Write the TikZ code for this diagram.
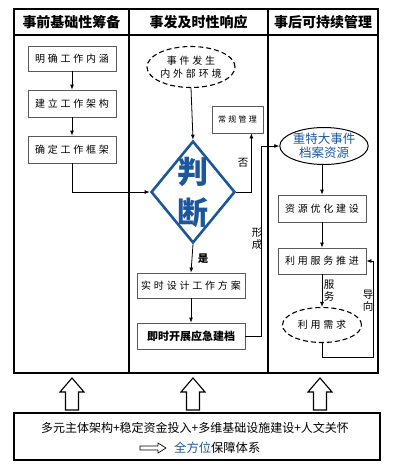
\documentclass[tikz,border=0pt]{standalone}
\usepackage{fontspec}
\setmainfont{Noto Sans CJK SC}
\newfontfamily\cjksp[LetterSpace=28]{Noto Sans CJK SC}
\usetikzlibrary{arrows.meta,shapes.geometric,calc}
\definecolor{dblue}{RGB}{28,86,156}
\definecolor{boxgray}{RGB}{90,90,90}
\tikzset{
  frame/.style={line width=1.5pt},
  box/.style={draw=boxgray,line width=0.8pt,fill=white,minimum width=88pt,minimum height=26pt,inner sep=0pt,font=\cjksp\fontsize{10}{12}\selectfont},
  arr/.style={-{Latex[length=5pt,width=4pt]},line width=0.8pt},
  hdr/.style={font=\fontsize{14}{16}\selectfont\bfseries},
  lbl/.style={font=\fontsize{10.5}{12}\selectfont,align=center,inner sep=0pt},
  dell/.style={ellipse,draw,dash pattern=on 5pt off 3pt,line width=1.1pt,inner sep=0pt,align=center,font=\cjksp\fontsize{10}{13}\selectfont},
  hollow/.style={draw,line width=1.1pt,fill=white},
}
\begin{document}
\begin{tikzpicture}[x=1pt,y=-1pt]
\useasboundingbox (0,0) rectangle (400,474);
% frame
\draw[frame] (14,9) rectangle (378,373);
\draw[frame] (14,35) -- (378,35);
\draw[frame] (129,9) -- (129,373);
\draw[frame] (268,9) -- (268,373);
\node[hdr] (h1) at (71.5,22) {事前基础性筹备};
\node[hdr] (h2) at (198.5,22) {事发及时性响应};
\node[hdr] (h3) at (323,22) {事后可持续管理};
% left column
\node[box,minimum height=25pt] (b1) at (72,58.5) {明确工作内涵};
\node[box,minimum height=27pt] (b2) at (72,103.5) {建立工作架构};
\node[box,minimum height=27pt] (b3) at (72,149.5) {确定工作框架};
\draw[arr] (b1) -- (b2);
\draw[arr] (b2) -- (b3);
% middle column
\node[dell,minimum width=88pt,minimum height=41pt] (ev) at (191,67) {事件发生\\内外部环境};
\node[diamond,draw=dblue,line width=2.6pt,minimum width=84pt,minimum height=102pt,inner sep=0pt] (dia) at (193,192) {};
\node[text=dblue,align=center,font=\fontsize{31}{41}\selectfont\bfseries] (pd) at (dia.center) {判\\断};
\node[box,minimum width=51pt,minimum height=27pt,font=\cjksp\fontsize{8}{10}\selectfont] (cg) at (237.5,119.5) {常规管理};
\node[box,minimum width=108pt,minimum height=25pt] (s1) at (191,285.5) {实时设计工作方案};
\node[box,minimum width=108pt,minimum height=26pt,font=\fontsize{11}{13}\selectfont\bfseries] (s2) at (191,336) {即时开展应急建档};
\draw[arr] (b3.south) |- (dia.west);
\draw[arr] (ev.south) -- (dia.north);
\draw[arr] (dia.east) -| ([xshift=-12pt]cg.south east);
\draw[arr] (dia.south) -- (s1.north);
\draw[arr] (s1.south) -- (s2.north);
\node[lbl] (no) at (243,163) {否};
\node[lbl,font=\fontsize{10.5}{12}\selectfont\bfseries] (yes) at (203,259) {是};
\node[lbl,font=\fontsize{10.5}{12}\selectfont] (xc) at (257,239) {形\\成};
% right column
\node[ellipse,draw,line width=1pt,inner sep=0pt,minimum width=85pt,minimum height=37pt,align=center,text=dblue,font=\fontsize{12.5}{14}\selectfont] (r1) at (324,146) {重特大事件\\档案资源};
\node[box,minimum height=27pt] (r2) at (322,208.5) {资源优化建设};
\node[box,minimum height=26pt] (r3) at (322,261) {利用服务推进};
\node[dell,minimum width=79pt,minimum height=35pt] (r4) at (322,325) {利用需求};
\draw[arr] (s2.east) -| ($(r1.west)+(-18,0)$) -- (r1.west);
\draw[arr] (r1.south -| r2.north) -- (r2.north);
\draw[arr] (r2.south) -- (r3.north);
\draw[arr] (r3.south) -- (r4.north);
\coordinate (fb) at (373,357);
\draw[arr] (r4.south) |- (fb) |- (r3.east);
\node[lbl] (fw) at (329,291) {服\\务};
\node[lbl] (dx) at (368,301) {导\\向};
% support arrows
\foreach \x in {72,193,320}{
  \draw[hollow] (\x-6.5,410) -- (\x-6.5,392) -- (\x-12,392) -- (\x,378) -- (\x+12,392) -- (\x+6.5,392) -- (\x+6.5,410) -- cycle;
}
\node[draw,frame,minimum width=366pt,minimum height=47pt,inner sep=0pt] (bb) at (197,436.5) {};
\node[font=\fontsize{12}{14}\selectfont,inner sep=0pt] (t1) at (195,428) {多元主体架构+稳定资金投入+多维基础设施建设+人文关怀};
\draw[line width=0.7pt] (140,446) -- (158,446) -- (158,443) -- (166,448) -- (158,453) -- (158,450) -- (140,450) -- cycle;
\node[anchor=west,font=\fontsize{12.3}{14}\selectfont,inner sep=0pt] (t2) at (174,448) {\textcolor{dblue}{全方位}保障体系};
\end{tikzpicture}
\end{document}
